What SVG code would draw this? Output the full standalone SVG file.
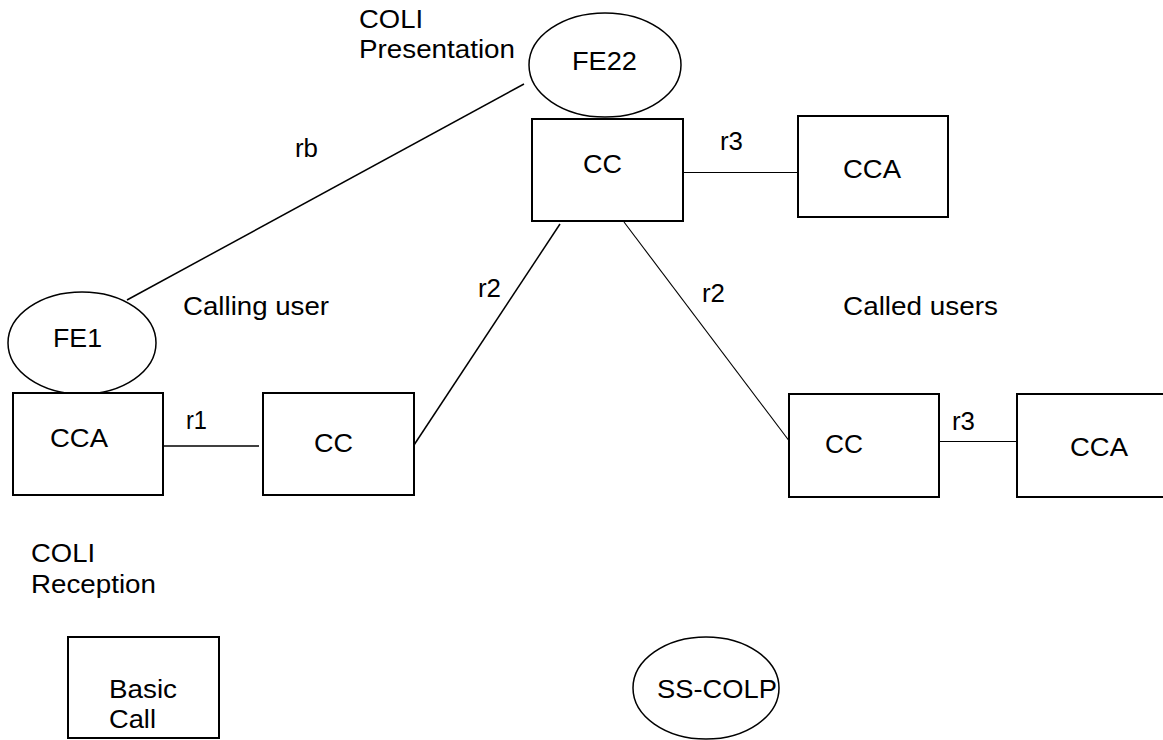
<svg xmlns="http://www.w3.org/2000/svg" width="1163" height="740" viewBox="0 0 1163 740">
<style>
text{font-family:"Liberation Sans",Arial,sans-serif;font-size:26px;fill:#000}
.box{fill:#fff;stroke:#000;stroke-width:2}
.ell{fill:#fff;stroke:#000;stroke-width:1.5}
.ln{stroke:#000;stroke-width:1.5;fill:none}
.thin{stroke:#000;stroke-width:1.1;fill:none}
</style>
<rect width="1163" height="740" fill="#fff"/>
<g id="connectors">
<line class="ln" x1="524" y1="84" x2="127" y2="300"/>
<line class="ln" x1="163" y1="446" x2="259" y2="446"/>
<line class="ln" x1="414" y1="445" x2="560" y2="224"/>
<line class="thin" x1="624" y1="222" x2="793" y2="446"/>
<line class="thin" x1="683" y1="172.5" x2="802" y2="172.5"/>
<line class="thin" x1="939" y1="441.5" x2="1020" y2="441.5"/>
</g>
<g id="labels" lengthAdjust="spacingAndGlyphs">
<text x="359" y="28" textLength="64" lengthAdjust="spacingAndGlyphs">COLI</text>
<text x="359" y="58" textLength="156" lengthAdjust="spacingAndGlyphs">Presentation</text>
<text x="295" y="157" textLength="23" lengthAdjust="spacingAndGlyphs">rb</text>
<text x="720" y="150" textLength="23" lengthAdjust="spacingAndGlyphs">r3</text>
<text x="183" y="315" textLength="146" lengthAdjust="spacingAndGlyphs">Calling user</text>
<text x="478" y="297" textLength="23" lengthAdjust="spacingAndGlyphs">r2</text>
<text x="702" y="302" textLength="23" lengthAdjust="spacingAndGlyphs">r2</text>
<text x="843" y="315" textLength="155" lengthAdjust="spacingAndGlyphs">Called users</text>
<text x="186" y="429" textLength="21" lengthAdjust="spacingAndGlyphs">r1</text>
<text x="952" y="430" textLength="23" lengthAdjust="spacingAndGlyphs">r3</text>
<text x="31" y="562" textLength="64" lengthAdjust="spacingAndGlyphs">COLI</text>
<text x="31" y="593" textLength="125" lengthAdjust="spacingAndGlyphs">Reception</text>
</g>
<g id="fe22">
<ellipse class="ell" cx="605" cy="65" rx="76" ry="52"/>
<text x="572" y="70" textLength="65" lengthAdjust="spacingAndGlyphs">FE22</text>
</g>
<g id="cc-top">
<rect class="box" x="532" y="119" width="151" height="102"/>
<text x="583" y="173" textLength="39" lengthAdjust="spacingAndGlyphs">CC</text>
</g>
<g id="cca-top">
<rect class="box" x="798" y="116" width="150" height="101"/>
<text x="843" y="178" textLength="58" lengthAdjust="spacingAndGlyphs">CCA</text>
</g>
<g id="fe1">
<ellipse class="ell" cx="82" cy="343" rx="74" ry="51"/>
<text x="53" y="347" textLength="49" lengthAdjust="spacingAndGlyphs">FE1</text>
</g>
<g id="cca-left">
<rect class="box" x="13" y="393" width="150" height="102"/>
<text x="50" y="447" textLength="58" lengthAdjust="spacingAndGlyphs">CCA</text>
</g>
<g id="cc-left">
<rect class="box" x="263" y="393" width="151" height="102"/>
<text x="314" y="452" textLength="39" lengthAdjust="spacingAndGlyphs">CC</text>
</g>
<g id="cc-right">
<rect class="box" x="789" y="394" width="150" height="103"/>
<text x="825" y="453" textLength="38" lengthAdjust="spacingAndGlyphs">CC</text>
</g>
<g id="cca-right">
<rect class="box" x="1017" y="394" width="160" height="103"/>
<text x="1070" y="456" textLength="58" lengthAdjust="spacingAndGlyphs">CCA</text>
</g>
<g id="basic-call">
<rect class="box" x="68" y="637" width="151" height="101"/>
<text x="109" y="698" textLength="68" lengthAdjust="spacingAndGlyphs">Basic</text>
<text x="109" y="728" textLength="47" lengthAdjust="spacingAndGlyphs">Call</text>
</g>
<g id="ss-colp">
<ellipse class="ell" cx="706" cy="688" rx="73" ry="51"/>
<text x="657" y="698" textLength="120" lengthAdjust="spacingAndGlyphs">SS-COLP</text>
</g>
</svg>
